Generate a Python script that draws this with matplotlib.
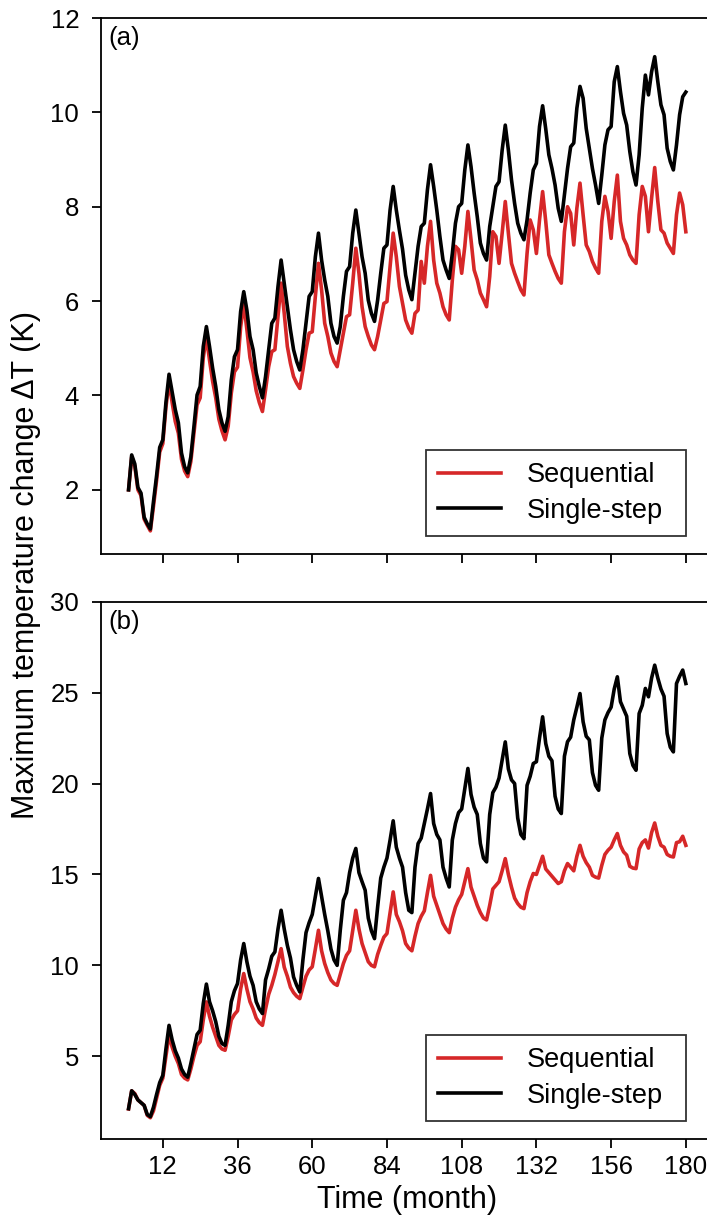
import numpy as np
import matplotlib
matplotlib.use("Agg")
import matplotlib.pyplot as plt

plt.rcParams["font.family"] = ["Liberation Sans", "DejaVu Sans"]

# monthly max temperature change
months = np.arange(1, 181)

seq_a = [
    2.0, 2.7, 2.5, 2.0, 1.88, 1.38, 1.25, 1.13, 1.65, 2.2, 2.8, 2.98,
    3.75, 4.3, 3.85, 3.45, 3.2, 2.65, 2.4, 2.28, 2.6, 3.2, 3.8, 3.95,
    4.8, 5.25, 4.75, 4.3, 3.95, 3.5, 3.25, 3.06, 3.35, 4.05, 4.5, 4.6,
    5.45, 5.95, 5.4, 4.8, 4.5, 4.1, 3.85, 3.66, 4.12, 4.61, 4.93, 4.97,
    5.67, 6.38, 5.74, 5.04, 4.68, 4.40, 4.26, 4.15, 4.54, 4.97, 5.32, 5.35,
    6.1, 6.8, 6.24, 5.53, 5.25, 4.9, 4.72, 4.61, 4.97, 5.32, 5.67, 5.71,
    6.38, 7.12, 6.59, 5.88, 5.46, 5.25, 5.07, 4.97, 5.25, 5.6, 5.95, 5.99,
    6.73, 7.44, 6.94, 6.31, 5.95, 5.6, 5.43, 5.32, 5.74, 5.81, 6.84, 6.38,
    7.16, 7.69, 6.87, 6.38, 6.17, 5.88, 5.71, 5.6, 6.45, 7.16, 7.09, 6.59,
    7.16, 7.9, 7.3, 6.66, 6.45, 6.17, 6.03, 5.88, 6.52, 7.47, 7.37, 6.8,
    7.44, 8.11, 7.44, 6.8, 6.59, 6.41, 6.24, 6.13, 7.01, 7.72, 7.51, 7.01,
    7.72, 8.32, 7.69, 6.98, 6.8, 6.63, 6.48, 6.38, 7.47, 8.0, 7.86, 7.19,
    7.97, 8.5, 7.83, 7.19, 7.05, 6.84, 6.7, 6.59, 7.69, 8.22, 7.9, 7.33,
    8.11, 8.67, 7.69, 7.33, 7.19, 6.98, 6.87, 6.8, 7.83, 8.43, 8.22, 7.47,
    8.18, 8.83, 8.11, 7.51, 7.44, 7.23, 7.12, 7.01, 7.83, 8.29, 8.04, 7.47,
]
single_a = [
    2.0, 2.74, 2.55, 2.05, 1.93, 1.42, 1.28, 1.17, 1.75, 2.3, 2.9, 3.06,
    3.85, 4.45, 4.08, 3.7, 3.42, 2.78, 2.49, 2.36, 2.7, 3.34, 4.01, 4.19,
    5.04, 5.46, 5.04, 4.58, 4.19, 3.7, 3.42, 3.24, 3.55, 4.33, 4.82, 4.97,
    5.78, 6.2, 5.81, 5.25, 4.97, 4.48, 4.19, 3.95, 4.4, 4.96, 5.53, 5.64,
    6.31, 6.87, 6.38, 5.88, 5.39, 4.97, 4.72, 4.54, 4.97, 5.53, 6.1, 6.2,
    6.94, 7.44, 6.87, 6.45, 6.1, 5.53, 5.25, 5.11, 5.46, 6.1, 6.63, 6.73,
    7.44, 7.93, 7.44, 6.94, 6.59, 6.02, 5.74, 5.57, 6.02, 6.59, 7.12, 7.19,
    7.93, 8.43, 7.93, 7.5, 7.1, 6.55, 6.24, 6.03, 6.59, 7.16, 7.58, 7.65,
    8.36, 8.89, 8.43, 7.93, 7.37, 6.87, 6.66, 6.48, 7.01, 7.65, 8.0, 8.07,
    8.78, 9.31, 8.85, 8.29, 7.79, 7.23, 7.01, 6.87, 7.58, 8.0, 8.43, 8.53,
    9.2, 9.73, 9.2, 8.57, 8.07, 7.65, 7.44, 7.3, 7.72, 8.29, 8.78, 8.92,
    9.7, 10.14, 9.65, 9.1, 8.81, 8.46, 7.97, 7.69, 8.25, 8.81, 9.27, 9.35,
    10.09, 10.55, 10.3, 9.66, 9.24, 8.81, 8.46, 8.07, 8.67, 9.31, 9.63, 9.7,
    10.65, 10.97, 10.44, 9.98, 9.73, 9.17, 8.74, 8.46, 9.1, 10.09, 10.79, 10.37,
    10.86, 11.18, 10.65, 10.16, 9.95, 9.24, 8.96, 8.78, 9.31, 9.95, 10.33, 10.43,
]
seq_b = [
    2.1, 3.1, 2.95, 2.6, 2.45, 2.3, 1.75, 1.62, 2.0, 2.7, 3.4, 3.8,
    5.0, 6.2, 5.5, 5.0, 4.6, 4.0, 3.8, 3.7, 4.3, 5.0, 5.6, 5.8,
    7.0, 7.99, 7.2, 6.6, 6.1, 5.6, 5.4, 5.33, 6.1, 7.0, 7.3, 7.5,
    8.7, 9.55, 8.7, 8.0, 7.6, 7.1, 6.85, 6.7, 7.6, 8.4, 8.9, 9.5,
    10.2, 10.92, 9.9, 9.4, 8.8, 8.5, 8.3, 8.17, 8.8, 9.4, 9.75, 9.92,
    10.9, 11.93, 10.8, 10.1, 9.6, 9.2, 9.0, 8.9, 9.5, 10.1, 10.55, 10.8,
    11.9, 13.03, 12.0, 11.2, 10.7, 10.2, 10.0, 9.92, 10.6, 11.1, 11.55, 11.75,
    12.9, 14.04, 12.8, 12.4, 11.9, 11.2, 10.95, 10.8, 11.6, 12.3, 12.7, 13.0,
    14.0, 14.95, 13.8, 13.3, 12.8, 12.3, 12.0, 11.8, 12.6, 13.2, 13.6, 13.9,
    14.6, 15.32, 14.3, 13.8, 13.3, 12.9, 12.6, 12.5, 13.3, 14.2, 14.4, 14.6,
    15.2, 15.87, 15.0, 14.3, 13.7, 13.4, 13.2, 13.12, 14.0, 14.6, 15.05, 15.0,
    15.5, 16.0, 15.3, 15.1, 14.9, 14.7, 14.5, 14.6, 15.2, 15.6, 15.4, 15.2,
    16.0, 16.6, 16.0, 15.65, 15.4, 14.95, 14.85, 14.8, 15.5, 16.1, 16.33, 16.5,
    16.9, 17.25, 16.6, 16.24, 16.06, 15.45, 15.35, 15.32, 16.4, 16.75, 16.9, 16.45,
    17.3, 17.83, 17.1, 16.6, 16.5, 16.1, 16.0, 15.96, 16.75, 16.8, 17.1, 16.6,
]
single_b = [
    2.12, 3.1, 2.9, 2.6, 2.45, 2.3, 1.8, 1.68, 2.2, 2.9, 3.55, 3.95,
    5.4, 6.7, 5.9, 5.3, 4.9, 4.3, 4.0, 3.85, 4.6, 5.4, 6.2, 6.43,
    7.9, 8.97, 8.0, 7.5, 6.9, 6.1, 5.7, 5.6, 6.7, 8.0, 8.6, 9.0,
    10.3, 11.2, 10.2, 9.4, 8.9, 8.0, 7.6, 7.35, 9.2, 9.8, 10.5, 10.74,
    12.0, 13.03, 12.0, 11.1, 10.4, 9.36, 8.9, 8.54, 10.3, 11.8, 12.35, 12.8,
    13.8, 14.78, 13.8, 12.8, 11.9, 10.9, 10.3, 10.0, 11.93, 13.58, 14.0, 15.1,
    15.9, 16.43, 15.1, 14.6, 14.13, 12.6, 11.9, 11.47, 13.2, 14.8, 15.4, 15.9,
    16.89, 17.95, 16.5, 15.9, 15.4, 14.0, 13.03, 12.9, 15.4, 16.7, 17.0, 17.8,
    18.6, 19.45, 17.8, 17.2, 16.9, 15.4, 14.8, 14.31, 16.9, 17.8, 18.4, 18.6,
    19.7, 20.83, 19.4, 18.7, 18.3, 16.7, 15.9, 15.69, 18.3, 19.5, 19.8, 20.3,
    21.3, 22.29, 20.8, 20.2, 20.0, 18.1, 17.2, 16.97, 19.9, 20.4, 21.1, 21.2,
    22.5, 23.67, 22.2, 21.5, 21.25, 19.3, 18.6, 18.35, 21.5, 22.3, 22.55, 23.5,
    24.2, 24.95, 23.4, 22.6, 22.4, 20.6, 19.9, 19.63, 22.5, 23.5, 23.9, 24.2,
    25.2, 25.87, 24.5, 24.1, 23.7, 21.65, 21.0, 20.73, 23.85, 24.3, 25.23, 24.77,
    25.8, 26.51, 25.8, 25.2, 24.8, 22.75, 22.0, 21.74, 25.5, 25.9, 26.24, 25.5,
]

panels = [
    ("(a)", seq_a, single_a, (0.64, 12), [2, 4, 6, 8, 10, 12]),
    ("(b)", seq_b, single_b, (0.45, 30), [5, 10, 15, 20, 25, 30]),
]
xticks = [12, 36, 60, 84, 108, 132, 156, 180]

W, H = 707, 1220
fig = plt.figure(figsize=(W / 100, H / 100), dpi=100)

ax_left = 100.7 / W
ax_w = 613.0 / W
boxes = [(18, 554), (601.7, 1139)]  # top/bottom in pixels

for (tag, seq, single, ylim, yticks), (top, bot) in zip(panels, boxes):
    ax = fig.add_axes([ax_left, 1 - bot / H, ax_w, (bot - top) / H])
    ax.plot(months, seq, color="#d62728", lw=2.6, label="Sequential")
    ax.plot(months, single, color="black", lw=2.6, label="Single-step")
    ax.set_xlim(-7.95, 188.95)
    ax.set_ylim(*ylim)
    ax.set_yticks(yticks)
    ax.set_xticks(xticks)
    ax.tick_params(direction="out", length=6.5, width=1.3, labelsize=18.5)
    ax.tick_params(axis="x", pad=5)
    ax.tick_params(axis="y", pad=9)
    for s in ax.spines.values():
        s.set_linewidth(1.3)
    if tag == "(a)":
        ax.tick_params(labelbottom=False)
    ax.text(0.012, 0.985, tag, transform=ax.transAxes, ha="left", va="top", fontsize=18.5)
    # box spans roughly x = 426..686 px, bottom 18 px above the axis
    leg = ax.legend(loc="lower left", bbox_to_anchor=(0.531, 0.034, 0.423, 0.2),
                    mode="expand", borderaxespad=0, fontsize=19.5, fancybox=False,
                    framealpha=1, edgecolor="#333333", borderpad=0.45,
                    handlelength=2.3, handletextpad=0.95, labelspacing=0.35)
    leg.get_frame().set_linewidth(1.3)
    if tag == "(b)":
        ax.set_xlabel("Time (month)", fontsize=22, labelpad=4)

fig.text(26 / W, 1 - 565 / H, "Maximum temperature change ΔT (K)", rotation=90,
         ha="center", va="center", fontsize=22)

fig.savefig("out.png", dpi=100)
